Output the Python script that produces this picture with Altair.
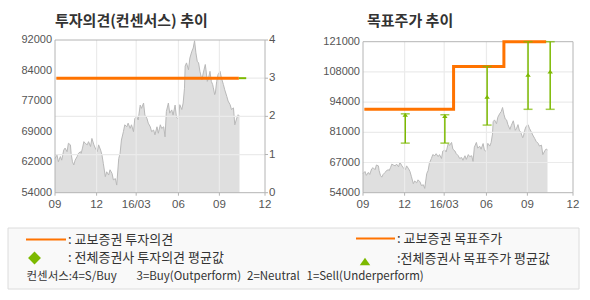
import altair as alt
import pandas as pd

# ---------------- data ----------------
price_idx = [0, 3, 5, 8, 10, 13, 15, 18, 20, 23, 24, 26, 28, 30, 33, 35, 38, 39, 41, 43,
             45, 48, 50, 53, 55, 58, 60, 63, 65, 68, 70, 72, 75, 77, 80, 82, 85, 87, 90, 92,
             95, 97, 99, 102, 104, 107, 109, 112, 114, 117, 119, 122, 124, 127, 129, 132, 134, 137, 139, 142,
             144, 147, 149, 152, 154, 157, 159, 162, 164, 166, 169, 171, 174, 176, 179, 181, 184, 186, 189, 191,
             193, 194, 196, 199, 201, 204, 206, 208, 210, 212, 214, 216, 219, 221, 224, 225, 227, 229, 231, 233,
             235, 236, 238, 239, 241, 243, 246, 248, 251, 253, 256, 258, 261, 263, 266, 268, 271, 273, 275]
price_val = [62500, 63400, 61700, 63000, 62100, 64600, 65100, 64200, 66300, 65900, 63800, 61700, 60900, 62100, 63000, 63800, 64200, 63800, 65100, 66700,
             66300, 65900, 66700, 65500, 67500, 65900, 65100, 64200, 65900, 64600, 63400, 61300, 58000, 59200, 58400, 59700, 58800, 57200, 57500, 55900,
             62500, 63800, 67100, 69200, 70900, 70400, 71300, 70000, 70900, 69200, 72500, 72900, 72100, 75800, 75000, 76300, 73300, 72500, 71300, 70400,
             69200, 69600, 68400, 70400, 68800, 70900, 70000, 70400, 67900, 74200, 76300, 73800, 74600, 73300, 75800, 72800, 72300, 75900, 74700, 76300,
             80000, 85500, 86300, 84600, 87500, 89200, 90000, 91800, 88800, 86700, 86300, 84200, 82100, 83800, 85900, 84600, 81700, 82600, 84200, 81700,
             80900, 80100, 78400, 78800, 81700, 83400, 84200, 82600, 80900, 79600, 78000, 76800, 75900, 74700, 75100, 70900, 72600, 73400, 73000]

x_tick_idx = [0, 62, 121, 184, 245, 313]
x_tick_lab = ["09", "12", "16/03", "06", "09", "12"]

left_tick_val = [54000, 61600, 69200, 76800, 84400, 92000]
left_tick_lab = ["54000", "62000", "69000", "77000", "84000", "92000"]
opinion_ticks = [0, 1, 2, 3, 4]
right_tick_val = [54000, 67400, 80800, 94200, 107600, 121000]
right_tick_lab = ["54000", "67000", "81000", "94000", "108000", "121000"]

opinion_idx = [2, 274]
opinion_val = [3, 3]
consensus_idx = [274, 285]
consensus_val = [3, 3]

target_idx = [2, 135, 210, 273]
target_val = [91000, 110000, 121000, 121000]

bar_idx = [63, 122, 185, 246, 279]
bar_high = [89000, 88600, 110000, 121000, 121000]
bar_low = [76000, 76000, 84000, 91000, 91000]
bar_mean = [88500, 88000, 96500, 106300, 107700]

title_left = "투자의견(컨센서스) 추이"
title_right = "목표주가 추이"
legend_texts = [": 교보증권 투자의견", ": 전체증권사 투자의견 평균값", ": 교보증권 목표주가", ":전체증권사 목표주가 평균값"]
consensus_texts = ["컨센서스:4=S/Buy", "3=Buy(Outperform)", "2=Neutral", "1=Sell(Underperform)"]

# ---------------- styles ----------------
ORANGE = "#ff7300"
GREEN = "#7cb900"
GRID = "#ebebeb"
FRAME = "#b4b4b4"
AREA = "#dfdfdf"
AREA_LINE = "#b9b9b9"
LABEL = "#555555"
KFONT = "Noto Sans CJK KR"
NFONT = "Liberation Sans"

L_TOP, R_TOP, BOT = 40, 41.7, 192.7
LX0, LX1, RX0, RX1 = 55, 265, 363, 573


def xs(side):
    rng = [LX0, LX1] if side == "L" else [RX0, RX1]
    return alt.Scale(domain=[0, 313], range=rng, nice=False, zero=False)


def ys(kind):
    if kind == "LP":
        return alt.Scale(domain=[54000, 92000], range=[BOT, L_TOP], nice=False, zero=False)
    if kind == "OP":
        return alt.Scale(domain=[0, 4], range=[BOT, L_TOP], nice=False, zero=False)
    return alt.Scale(domain=[54000, 121000], range=[BOT, R_TOP], nice=False, zero=False)


price_df = pd.DataFrame({"i": price_idx, "v": price_val})
one = pd.DataFrame({"a": [0]})
layers = []

for side, yk, top in [("L", "LP", L_TOP), ("R", "RP", R_TOP)]:
    X = alt.X("i:Q", scale=xs(side), axis=None)
    Y = alt.Y("v:Q", scale=ys(yk), axis=None)
    # price area
    layers.append(alt.Chart(price_df).mark_area(color=AREA).encode(x=X, y=Y, y2=alt.datum(54000)))
    layers.append(alt.Chart(price_df).mark_line(color=AREA_LINE, strokeWidth=1).encode(x=X, y=Y))
    # vertical grid
    xt = pd.DataFrame({"i": x_tick_idx[1:-1]})
    layers.append(alt.Chart(xt).mark_rule(color=GRID, strokeWidth=1.2).encode(
        x=X, y=alt.value(top), y2=alt.value(BOT)))
    # x ticks + labels
    xl = pd.DataFrame({"i": x_tick_idx, "lab": x_tick_lab})
    layers.append(alt.Chart(xl).mark_rule(color=FRAME).encode(x=X, y=alt.value(BOT), y2=alt.value(BOT + 3)))
    layers.append(alt.Chart(xl).mark_text(font=NFONT, fontSize=11.5, color=LABEL, baseline="middle").encode(
        x=X, y=alt.value(205), text="lab:N"))

# left horizontal grid (opinion scale)
op_df = pd.DataFrame({"v": opinion_ticks, "lab": [str(t) for t in opinion_ticks]})
YOP = alt.Y("v:Q", scale=ys("OP"), axis=None)
layers.append(alt.Chart(op_df[(op_df.v > 0) & (op_df.v < 4)]).mark_rule(color=GRID, strokeWidth=1.2).encode(
    y=YOP, x=alt.value(LX0), x2=alt.value(LX1)))
layers.append(alt.Chart(op_df).mark_rule(color=FRAME).encode(y=YOP, x=alt.value(LX1), x2=alt.value(LX1 + 3)))
layers.append(alt.Chart(op_df).mark_text(font=NFONT, fontSize=11.5, color=LABEL, align="left", baseline="middle").encode(
    y=YOP, x=alt.value(269), text="lab:N"))

# left price labels
lp_df = pd.DataFrame({"v": left_tick_val, "lab": left_tick_lab})
layers.append(alt.Chart(lp_df).mark_text(font=NFONT, fontSize=11, color=LABEL, align="right", baseline="middle").encode(
    y=alt.Y("v:Q", scale=ys("LP"), axis=None), x=alt.value(52), text="lab:N"))

# right horizontal grid + labels
rp_df = pd.DataFrame({"v": right_tick_val, "lab": right_tick_lab})
YRP = alt.Y("v:Q", scale=ys("RP"), axis=None)
layers.append(alt.Chart(rp_df.iloc[1:-1]).mark_rule(color=GRID, strokeWidth=1.2).encode(
    y=YRP, x=alt.value(RX0), x2=alt.value(RX1)))
layers.append(alt.Chart(rp_df).mark_text(font=NFONT, fontSize=11, color=LABEL, align="right", baseline="middle").encode(
    y=YRP, x=alt.value(360), text="lab:N"))

# frames
layers.append(alt.Chart(one).mark_rect(fill="transparent", stroke=FRAME, strokeWidth=1).encode(
    x=alt.value(LX0), x2=alt.value(LX1), y=alt.value(L_TOP), y2=alt.value(BOT)))
layers.append(alt.Chart(one).mark_rect(fill="transparent", stroke=FRAME, strokeWidth=1).encode(
    x=alt.value(RX0), x2=alt.value(RX1), y=alt.value(R_TOP), y2=alt.value(BOT)))

# left: opinion line + consensus segment
layers.append(alt.Chart(pd.DataFrame({"i": consensus_idx, "v": consensus_val})).mark_line(color=GREEN, strokeWidth=2).encode(
    x=alt.X("i:Q", scale=xs("L"), axis=None), y=YOP))
layers.append(alt.Chart(pd.DataFrame({"i": opinion_idx, "v": opinion_val})).mark_line(color=ORANGE, strokeWidth=3).encode(
    x=alt.X("i:Q", scale=xs("L"), axis=None), y=YOP))

# right: target price step line
XR = alt.X("i:Q", scale=xs("R"), axis=None)
layers.append(alt.Chart(pd.DataFrame({"i": target_idx, "v": target_val})).mark_line(
    color=ORANGE, strokeWidth=3, interpolate="step-after").encode(x=XR, y=YRP))

# error bars
bar_df = pd.DataFrame({"i": bar_idx, "hi": bar_high, "lo": bar_low, "m": bar_mean})
layers.append(alt.Chart(bar_df).mark_rule(color=GREEN, strokeWidth=1.5).encode(
    x=XR, y=alt.Y("hi:Q", scale=ys("RP"), axis=None), y2="lo:Q"))
for col in ["hi", "lo"]:
    layers.append(alt.Chart(bar_df).mark_tick(color=GREEN, orient="horizontal", size=9, thickness=1.5).encode(
        x=XR, y=alt.Y(f"{col}:Q", scale=ys("RP"), axis=None)))
TRI = "M0,-0.7L1,0.7L-1,0.7Z"
layers.append(alt.Chart(bar_df).mark_point(shape=TRI, filled=True, color=GREEN, size=30, opacity=1).encode(
    x=XR, y=alt.Y("m:Q", scale=ys("RP"), axis=None)))

# titles
layers.append(alt.Chart(one).mark_text(text=title_left, font=KFONT, fontSize=15, fontWeight="bold", color="#333333",
                                        align="left", baseline="middle").encode(x=alt.value(55), y=alt.value(21)))
layers.append(alt.Chart(one).mark_text(text=title_right, font=KFONT, fontSize=15, fontWeight="bold", color="#333333",
                                        align="left", baseline="middle").encode(x=alt.value(367), y=alt.value(21)))

# legend box
layers.append(alt.Chart(one).mark_rect(fill="#f9f9f9", stroke="#dcdcdc", strokeWidth=1).encode(
    x=alt.value(8), x2=alt.value(579), y=alt.value(228), y2=alt.value(289)))
layers.append(alt.Chart(one).mark_rule(color=ORANGE, strokeWidth=2).encode(
    x=alt.value(26), x2=alt.value(66), y=alt.value(239.5)))
layers.append(alt.Chart(one).mark_rule(color=ORANGE, strokeWidth=2).encode(
    x=alt.value(356), x2=alt.value(395), y=alt.value(238.5)))
layers.append(alt.Chart(one).mark_point(shape="diamond", filled=True, color=GREEN, size=165, opacity=1).encode(
    x=alt.value(34.5), y=alt.value(258)))
layers.append(alt.Chart(one).mark_point(shape=TRI, filled=True, color=GREEN, size=110, opacity=1).encode(
    x=alt.value(365), y=alt.value(261.5)))
leg_pos = [(68, 240), (68, 258), (397, 239), (397, 258.5)]
for t, (px, py) in zip(legend_texts, leg_pos):
    layers.append(alt.Chart(one).mark_text(text=t, font=KFONT, fontSize=13, color="#333333",
                                            align="left", baseline="middle").encode(x=alt.value(px), y=alt.value(py)))
cons_x = [26.5, 136.5, 247, 306.5]
for t, px in zip(consensus_texts, cons_x):
    layers.append(alt.Chart(one).mark_text(text=t, font=KFONT, fontSize=11.5, color="#333333",
                                            align="left", baseline="middle").encode(x=alt.value(px), y=alt.value(276.5)))

chart = alt.layer(*layers).resolve_scale(x="independent", y="independent").properties(
    width=590, height=300, padding=0, autosize=alt.AutoSizeParams(type="none"), background="white"
).configure_view(stroke=None)

chart.save("out.html", embed_options={"renderer": "svg", "actions": False})
